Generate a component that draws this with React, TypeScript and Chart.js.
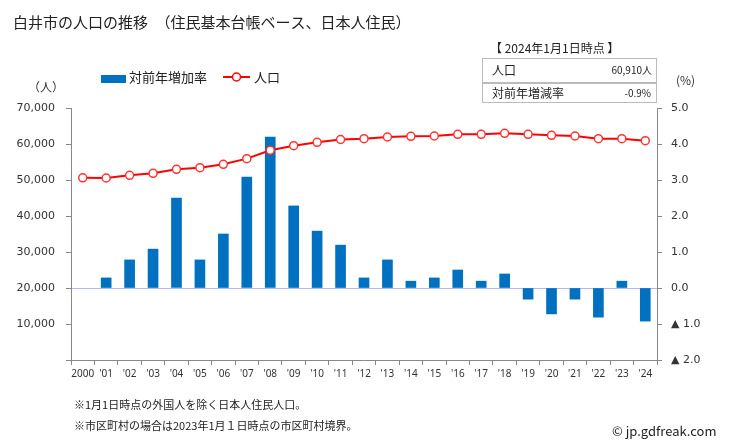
import React, { useEffect, useRef } from "react";
import { Chart, registerables } from "chart.js";

Chart.register(...registerables);

const years = ["2000", "'01", "'02", "'03", "'04", "'05", "'06", "'07", "'08", "'09", "'10", "'11", "'12", "'13", "'14", "'15", "'16", "'17", "'18", "'19", "'20", "'21", "'22", "'23", "'24"];
const population = [50600, 50560, 51300, 51850, 52960, 53430, 54350, 55930, 58240, 59540, 60460, 61250, 61480, 61940, 62130, 62220, 62680, 62680, 62960, 62680, 62400, 62220, 61480, 61480, 60910];
const growthRate = [null, 0.28, 0.78, 1.08, 2.5, 0.78, 1.5, 3.08, 4.19, 2.28, 1.58, 1.19, 0.28, 0.78, 0.19, 0.28, 0.5, 0.19, 0.39, -0.31, -0.72, -0.31, -0.81, 0.19, -0.92];
const leftTicks = [0, 10000, 20000, 30000, 40000, 50000, 60000, 70000];
const rightTicks = [-2, -1, 0, 1, 2, 3, 4, 5];

const JP = '"Noto Sans CJK JP", "Noto Sans", sans-serif';
const AX = '"DejaVu Sans", Verdana, sans-serif';

const textPlugin = {
  id: "texts",
  afterDraw(chart: any) {
    const ctx = chart.ctx;
    ctx.save();
    ctx.textBaseline = "middle";
    ctx.fillStyle = "#222";
    ctx.textAlign = "left";
    ctx.font = `15px ${JP}`;
    ctx.fillText("白井市の人口の推移　（住民基本台帳ベース、日本人住民）", 13, 22);

    // info header
    ctx.font = `12px ${JP}`;
    ctx.fillStyle = "#222";
    ctx.fillText("【 2024年1月1日時点 】", 490, 48);
    // info boxes
    ctx.strokeStyle = "#bbbbbb";
    ctx.lineWidth = 1;
    ctx.strokeRect(482.5, 58.5, 174, 24);
    ctx.strokeRect(482.5, 83.5, 174, 19);
    ctx.fillStyle = "#222";
    ctx.font = `12px ${JP}`;
    ctx.fillText("人口", 492, 70);
    ctx.fillText("対前年増減率", 492, 93);
    ctx.textAlign = "right";
    ctx.font = `10px ${JP}`;
    ctx.fillText("60,910人", 652, 70);
    ctx.fillText("-0.9%", 651, 93);

    // units
    ctx.textAlign = "left";
    ctx.font = `12px ${JP}`;
    ctx.fillStyle = "#333";
    ctx.fillText("（人）", 28, 87);
    ctx.fillText("(%)", 676, 80);

    // legend
    ctx.fillStyle = "#0070c0";
    ctx.fillRect(101, 75, 25, 8);
    ctx.fillStyle = "#222";
    ctx.font = `13px ${JP}`;
    ctx.fillText("対前年増加率", 129, 77);
    ctx.strokeStyle = "#ff0000";
    ctx.lineWidth = 2;
    ctx.beginPath();
    ctx.moveTo(223, 77);
    ctx.lineTo(250, 77);
    ctx.stroke();
    ctx.beginPath();
    ctx.arc(236.5, 77, 4, 0, Math.PI * 2);
    ctx.fillStyle = "#fff";
    ctx.fill();
    ctx.lineWidth = 1.5;
    ctx.stroke();
    ctx.fillStyle = "#222";
    ctx.fillText("人口", 254, 77);

    // footnotes
    ctx.font = `11px ${JP}`;
    ctx.fillStyle = "#222";
    ctx.fillText("※1月1日時点の外国人を除く日本人住民人口。", 74, 405);
    ctx.fillText("※市区町村の場合は2023年1月１日時点の市区町村境界。", 74, 426);
    ctx.font = `13px ${JP}`;
    ctx.fillText("© jp.gdfreak.com", 612, 431);
    ctx.restore();
  },
};

export default function App() {
  const ref = useRef<HTMLCanvasElement | null>(null);
  useEffect(() => {
    if (!ref.current) return;
    const chart = new Chart(ref.current, {
      type: "bar",
      data: {
        labels: years,
        datasets: [
          {
            type: "line",
            label: "人口",
            data: population,
            yAxisID: "y",
            borderColor: "#ff0000",
            borderWidth: 2,
            pointRadius: 4,
            pointBackgroundColor: "#ffffff",
            pointBorderColor: "#ff3333",
            pointBorderWidth: 1.5,
            order: 0,
          } as any,
          {
            type: "bar",
            label: "対前年増加率",
            data: growthRate,
            yAxisID: "y1",
            backgroundColor: "#0070c0",
            barThickness: 10,
            order: 1,
          } as any,
        ],
      },
      options: {
        responsive: false,
        animation: false,
        layout: { padding: { top: 108, left: 0, right: 0, bottom: 0 } },
        plugins: { legend: { display: false }, tooltip: { enabled: false }, title: { display: false } },
        scales: {
          x: {
            offset: true,
            grid: { display: true, drawOnChartArea: false, drawTicks: true, tickLength: 5, color: "#888", offset: true },
            border: { color: "#888" },
            ticks: { font: { size: 10, family: '"Noto Sans", sans-serif' }, color: "#333", padding: 3, maxRotation: 0, autoSkip: false },
            afterFit: (s: any) => { s.height = 86; },
          },
          y: {
            position: "left",
            min: 0,
            max: 70000,
            afterBuildTicks: (s: any) => { s.ticks = leftTicks.map((v) => ({ value: v })); },
            grid: { drawOnChartArea: false, tickLength: 5, color: "#888" },
            border: { color: "#888" },
            ticks: {
              font: { size: 11, family: AX },
              color: "#333",
              padding: 11,
              callback: (v: any) => (v === 0 ? "" : Number(v).toLocaleString("en-US")),
            },
            afterFit: (s: any) => { s.width = 71; },
          },
          y1: {
            position: "right",
            min: -2,
            max: 5,
            afterBuildTicks: (s: any) => { s.ticks = rightTicks.map((v) => ({ value: v })); },
            grid: {
              drawOnChartArea: true,
              tickLength: 5,
              tickColor: "#888",
              color: (c: any) => (c.tick && c.tick.value === 0 ? "#b4b4ff" : "rgba(0,0,0,0)"),
            },
            border: { color: "#888" },
            ticks: {
              font: { size: 11, family: AX },
              color: "#333",
              padding: 9,
              callback: (v: any) => (Number(v) < 0 ? "▲ " + Math.abs(Number(v)).toFixed(1) : Number(v).toFixed(1)),
            },
            afterFit: (s: any) => { s.width = 72; },
          },
        },
      },
      plugins: [textPlugin],
    });
    return () => chart.destroy();
  }, []);
  return (
    <div style={{ position: "absolute", left: 0, top: 0, width: 729, height: 446, background: "#fff" }}>
      <canvas ref={ref} width={729} height={446} style={{ display: "block", width: 729, height: 446 }} />
    </div>
  );
}
